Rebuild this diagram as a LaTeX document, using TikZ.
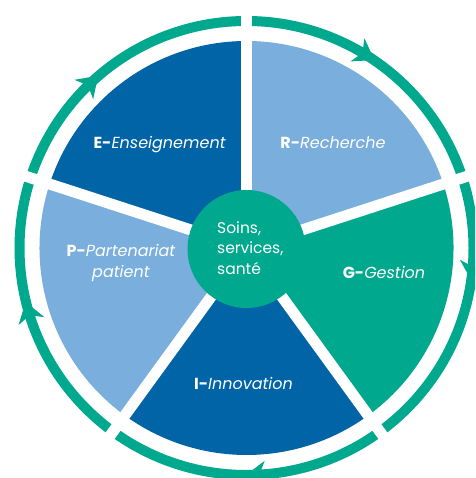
\documentclass[tikz,border=0pt]{standalone}
\usepackage{fontspec}
\setmainfont{Poppins}
\definecolor{dblue}{RGB}{0,100,166}
\definecolor{lblue}{RGB}{122,174,220}
\definecolor{tealc}{RGB}{0,168,142}
\tikzset{
  lbl/.style={text=white, font=\fontsize{16}{20.7}\selectfont, inner sep=0pt},
  ctr/.style={text=white, font=\fontsize{15.5}{20.3}\selectfont, inner sep=0pt},
  ringarrow/.style={fill=tealc},
}
\begin{document}
\begin{tikzpicture}[x=1pt,y=1pt]
\useasboundingbox (0,0) rectangle (475,478);
\clip (0,0) rectangle (475,478);
\begin{scope}[shift={(246.5,230)}]
  \coordinate (o) at (0,0);
  % outer cycle ring
  \draw[tealc, line width=10pt] (o) circle[radius=227];
  \foreach \a in {134,59,-5,273,197}{
    \fill[ringarrow, rotate=\a] (227,-13) -- (240.5,7) -- (227,1) -- (213.5,7) -- cycle;
  }
  % sectors
  \fill[lblue] (o) -- (18:207) arc[start angle=18, end angle=90, radius=207] -- cycle;
  \fill[dblue] (o) -- (90:207) arc[start angle=90, end angle=162, radius=207] -- cycle;
  \fill[lblue] (o) -- (162:207) arc[start angle=162, end angle=234, radius=207] -- cycle;
  \fill[dblue] (o) -- (234:207) arc[start angle=234, end angle=306, radius=207] -- cycle;
  \fill[tealc] (o) -- (306:207) arc[start angle=306, end angle=378, radius=207] -- cycle;
  % separators
  \foreach \a in {18,90,162,234,306}{
    \draw[white, line width=11pt] (o) -- (\a:245);
  }
  % centre
  \node[circle, fill=tealc, minimum size=118pt, inner sep=0pt] (c) at (0,-1) {};
  \node[ctr, align=left, anchor=west] (ct) at (-29.5,0) {Soins,\\services,\\santé};
  % labels
  \node[lbl, anchor=base] (e) at (-86.8,99.7) {\textbf{E-}\textit{Enseignement}};
  \node[lbl, anchor=base] (r) at (86.5,99.7) {\textbf{R-}\textit{Recherche}};
  \node[lbl, anchor=base] (g) at (137.5,-30.7) {\textbf{G-}\textit{Gestion}};
  \node[lbl, anchor=base, align=center] (p) at (-125.5,-29.3) {\textbf{P-}\textit{Partenariat}\\\textit{patient}};
  \node[lbl, anchor=base] (i) at (-3,-141.7) {\textbf{I-}\textit{Innovation}};
\end{scope}
\end{tikzpicture}
\end{document}
